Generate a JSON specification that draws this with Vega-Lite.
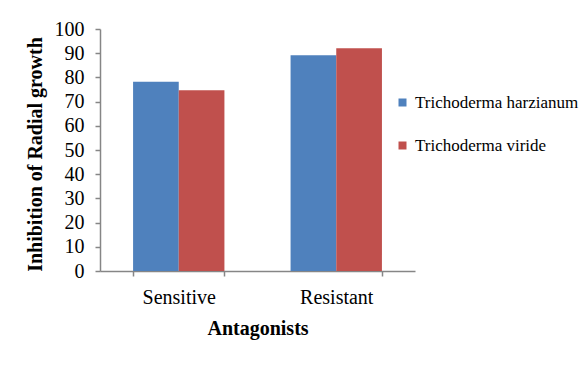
{
  "$schema": "https://vega.github.io/schema/vega-lite/v6.json",
  "autosize": "none",
  "width": 315,
  "height": 242,
  "padding": {"left": 100, "top": 29, "right": 167, "bottom": 110},
  "background": "white",
  "data": {
    "values": [
      {"group": "Sensitive", "species": "Trichoderma harzianum", "inhibition": 78.2},
      {"group": "Sensitive", "species": "Trichoderma viride", "inhibition": 74.7},
      {"group": "Resistant", "species": "Trichoderma harzianum", "inhibition": 89.2},
      {"group": "Resistant", "species": "Trichoderma viride", "inhibition": 92.0}
    ]
  },
  "mark": {"type": "bar"},
  "encoding": {
    "x": {
      "field": "group",
      "type": "nominal",
      "sort": ["Sensitive", "Resistant"],
      "scale": {"paddingInner": 0.42, "paddingOuter": 0.21},
      "axis": {
        "title": "Antagonists",
        "titleFontSize": 20,
        "titleFontWeight": "bold",
        "titleColor": "black",
        "titleY": 63,
        "titleBaseline": "alphabetic",
        "labelAngle": 0,
        "labelFontSize": 20,
        "labelColor": "black",
        "labelPadding": 11,
        "tickBand": "extent",
        "tickSize": 5,
        "tickColor": "#868686",
        "tickWidth": 1.5,
        "domainColor": "#868686",
        "domainWidth": 1.5
      }
    },
    "xOffset": {
      "field": "species",
      "type": "nominal",
      "sort": ["Trichoderma harzianum", "Trichoderma viride"]
    },
    "y": {
      "field": "inhibition",
      "type": "quantitative",
      "scale": {"domain": [0, 100]},
      "axis": {
        "title": "Inhibition of Radial growth",
        "titleFontSize": 20,
        "titleFontWeight": "bold",
        "titleColor": "black",
        "titleX": -65,
        "titleY": 125,
        "titleAngle": -90,
        "titleAlign": "center",
        "titleBaseline": "middle",
        "values": [0, 10, 20, 30, 40, 50, 60, 70, 80, 90, 100],
        "grid": false,
        "labelFontSize": 20,
        "labelColor": "black",
        "labelPadding": 11,
        "tickSize": 5,
        "tickColor": "#868686",
        "tickWidth": 1.5,
        "domainColor": "#868686",
        "domainWidth": 1.5
      }
    },
    "color": {
      "field": "species",
      "type": "nominal",
      "sort": ["Trichoderma harzianum", "Trichoderma viride"],
      "scale": {"range": ["#4F81BD", "#C0504D"]},
      "legend": {
        "title": null,
        "orient": "none",
        "legendX": 294,
        "legendY": 65,
        "symbolType": "square",
        "symbolSize": 64,
        "symbolStrokeWidth": 0,
        "symbolOpacity": 1,
        "labelFontSize": 17,
        "labelColor": "black",
        "labelOffset": 4,
        "labelLimit": 300,
        "rowPadding": 25
      }
    }
  },
  "config": {
    "font": "Liberation Serif",
    "view": {"stroke": null}
  }
}
